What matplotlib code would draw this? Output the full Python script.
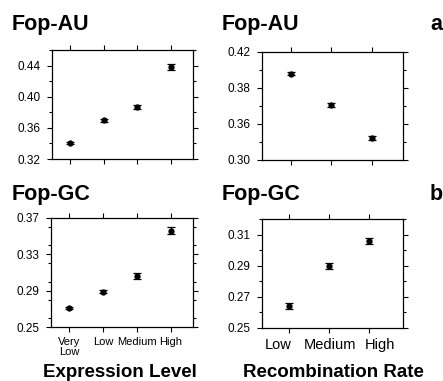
import matplotlib
matplotlib.use("Agg")
import matplotlib.pyplot as plt
from matplotlib.ticker import FixedLocator, MultipleLocator
from matplotlib.transforms import ScaledTranslation

plt.rcParams['font.family'] = ['Liberation Sans', 'DejaVu Sans']

# ---- data ----
expr_cats = ["Very\nLow", "Low", "Medium", "High"]
recomb_cats = ["Low", "Medium", "High"]

fop_au_expr = [0.340, 0.370, 0.387, 0.438]
fop_au_expr_err = [0.0012, 0.002, 0.003, 0.004]
fop_gc_expr = [0.2705, 0.289, 0.306, 0.356]
fop_gc_expr_err = [0.001, 0.002, 0.003, 0.004]

fop_au_recomb = [0.402, 0.3757, 0.3485]
fop_au_recomb_err = [0.0012, 0.0015, 0.0015]
fop_gc_recomb = [0.2641, 0.290, 0.306]
fop_gc_recomb_err = [0.002, 0.002, 0.002]

tl_yticks = [0.32, 0.36, 0.40, 0.44]
tl_ylabels = ["0.32", "0.36", "0.40", "0.44"]
tr_yticks = [0.33, 0.36, 0.39, 0.42]
tr_ylabels = ["0.30", "0.36", "0.38", "0.42"]
bl_yticks = [0.25, 0.29, 0.33, 0.37]
bl_ylabels = ["0.25", "0.29", "0.33", "0.37"]
br_yticks = [0.25, 0.27, 0.29, 0.31]
br_ylabels = ["0.25", "0.27", "0.29", "0.31"]

W, H = 443, 381
fig = plt.figure(figsize=(W / 100, H / 100), dpi=100)

def px_axes(l, t, r, b):
    return fig.add_axes([l / W, 1 - b / H, (r - l) / W, (b - t) / H])

def style(ax, yticks, ylabels, ylim, xlim, minor, xfs):
    ax.set_ylim(*ylim)
    ax.set_xlim(*xlim)
    ax.yaxis.set_major_locator(FixedLocator(yticks))
    ax.set_yticklabels(ylabels)
    ax.yaxis.set_minor_locator(MultipleLocator(minor))
    ax.tick_params(which='both', direction='out', top=True, right=True,
                   width=0.8, color='black')
    ax.tick_params(which='major', length=3.5)
    ax.tick_params(which='minor', length=2.5)
    ax.tick_params(axis='y', labelsize=8.5, pad=5)
    ax.tick_params(axis='x', labelsize=xfs, pad=4)
    for s in ax.spines.values():
        s.set_linewidth(0.9)

def draw(ax, cats, vals, errs):
    xs = list(range(len(cats)))
    ax.errorbar(xs, vals, yerr=errs, fmt='o', color='black', ms=3.5,
                capsize=3, elinewidth=0.9, capthick=0.9)
    ax.set_xticks(xs)
    ax.set_xticklabels(cats, linespacing=0.9)

ax1 = px_axes(52, 50, 193, 159)
draw(ax1, expr_cats, fop_au_expr, fop_au_expr_err)
style(ax1, tl_yticks, tl_ylabels, (0.32, 0.46), (-0.53, 3.65), 0.02, 8)
ax1.set_xticklabels([])

ax2 = px_axes(262, 52, 403, 160)
draw(ax2, recomb_cats, fop_au_recomb, fop_au_recomb_err)
style(ax2, tr_yticks, tr_ylabels, (0.33, 0.42), (-0.72, 2.77), 0.015, 10.5)
ax2.set_xticklabels([])

ax3 = px_axes(51, 218, 193, 327)
draw(ax3, expr_cats, fop_gc_expr, fop_gc_expr_err)
style(ax3, bl_yticks, bl_ylabels, (0.25, 0.37), (-0.53, 3.65), 0.02, 8)

ax4 = px_axes(262, 219, 403, 328)
draw(ax4, recomb_cats, fop_gc_recomb, fop_gc_recomb_err)
style(ax4, br_yticks, br_ylabels, (0.25, 0.32), (-0.66, 2.84), 0.01, 10.5)
# spread the bottom-right tick labels a little, as in the reference
for lab, dx in zip(ax4.get_xticklabels(), [-10, 1, 11]):
    lab.set_transform(lab.get_transform() + ScaledTranslation(dx / 100, 0, fig.dpi_scale_trans))

def ftext(x, y, s, **kw):
    fig.text(x / W, 1 - y / H, s, **kw)

tkw = dict(fontsize=15.5, fontweight='bold', va='baseline', ha='left')
ftext(12, 30, "Fop-AU", **tkw)
ftext(222, 30, "Fop-AU", **tkw)
ftext(12, 200, "Fop-GC", **tkw)
ftext(222, 200, "Fop-GC", **tkw)
ftext(430, 30, "a", **tkw)
ftext(430, 200, "b", **tkw)

xkw = dict(fontsize=13.5, fontweight='bold', va='baseline', ha='center')
ftext(120, 377, "Expression Level", **xkw)
ftext(333, 377, "Recombination Rate", **xkw)

fig.savefig("out.png", dpi=100)
